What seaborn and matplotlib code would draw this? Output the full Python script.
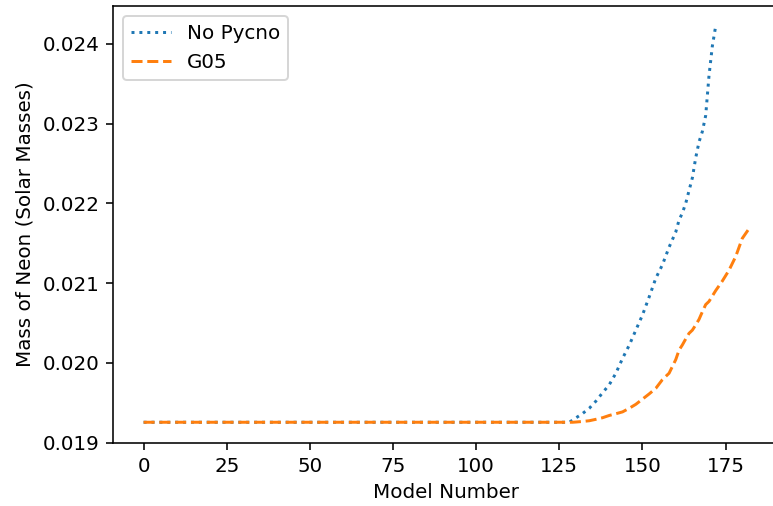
import matplotlib
matplotlib.use("Agg")
import matplotlib.pyplot as plt
import seaborn as sns
import pandas as pd

# Neon mass per model, without pycnonuclear burning
no_pycno_model = [0, 128, 130, 132, 134, 136, 138, 140, 142, 144, 146, 148, 150,
                  152, 154, 156, 158, 160, 161, 162, 163, 164, 165, 166, 167,
                  168, 169, 170, 171, 172]
no_pycno_neon = [0.019255, 0.019255, 0.019310, 0.019365, 0.019430, 0.019520,
                 0.019625, 0.019725, 0.019870, 0.020055, 0.020220, 0.020410,
                 0.020600, 0.020825, 0.021060, 0.021230, 0.021450, 0.021640,
                 0.021790, 0.021880, 0.022000, 0.022160, 0.022320, 0.022570,
                 0.022770, 0.022900, 0.023100, 0.023600, 0.023970, 0.024220]

# Neon mass per model, with G05 pycnonuclear rates
g05_model = [0, 129, 130, 132, 134, 136, 138, 140, 142, 144, 146, 148, 150, 152,
             154, 156, 158, 160, 161, 162, 163, 164, 165, 166, 167, 168, 169,
             170, 172, 174, 176, 178, 180, 182]
g05_neon = [0.019255, 0.019255, 0.019258, 0.019265, 0.019274, 0.019292, 0.019312,
            0.019340, 0.019362, 0.019385, 0.019430, 0.019480, 0.019545, 0.019610,
            0.019680, 0.019790, 0.019870, 0.020040, 0.020160, 0.020225, 0.020300,
            0.020370, 0.020410, 0.020475, 0.020545, 0.020640, 0.020730, 0.020770,
            0.020905, 0.021025, 0.021160, 0.021330, 0.021560, 0.021680]

df_np = pd.DataFrame({"model": no_pycno_model, "neon": no_pycno_neon})
df_g05 = pd.DataFrame({"model": g05_model, "neon": g05_neon})

fig = plt.figure(figsize=(773 / 143, 506 / 143), dpi=143)
ax = fig.add_axes([0.1466, 0.1253, 0.8614, 0.862])

sns.lineplot(data=df_np, x="model", y="neon", ax=ax, color="#1f77b4",
             linestyle=":", linewidth=1.5, label="No Pycno")
sns.lineplot(data=df_g05, x="model", y="neon", ax=ax, color="#ff7f0e",
             linestyle="--", linewidth=1.5, label="G05")

ax.set_xticks([0, 25, 50, 75, 100, 125, 150, 175])
ax.set_yticks([0.019, 0.020, 0.021, 0.022, 0.023, 0.024])
ax.set_xlabel("Model Number")
ax.set_ylabel("Mass of Neon (Solar Masses)")
ax.spines["right"].set_visible(False)
ax.legend(loc="upper left")

fig.savefig("out.png", dpi=143)
